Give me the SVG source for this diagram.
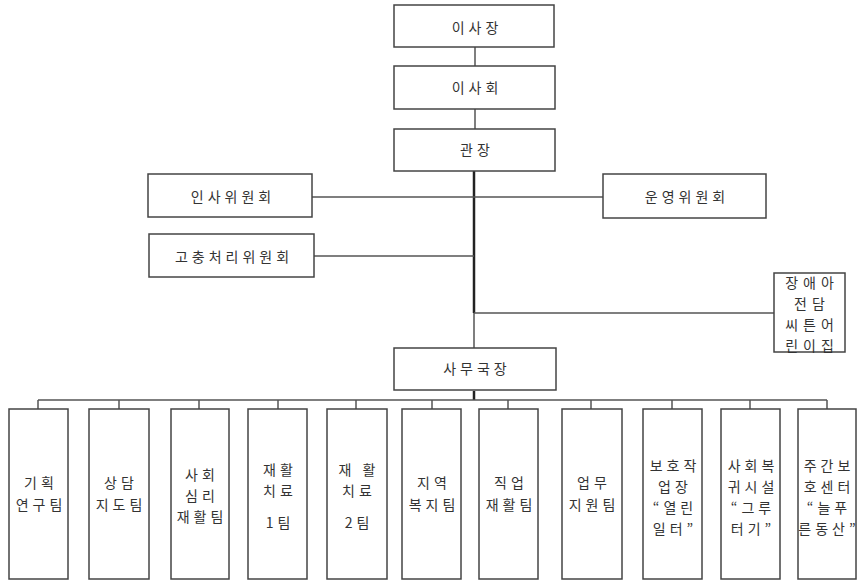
<svg xmlns="http://www.w3.org/2000/svg" width="858" height="581" viewBox="0 0 858 581">
<style>
rect.b{fill:#fff;stroke:#444;stroke-width:1.5}
text{font-family:"Noto Sans CJK KR","Noto Sans",sans-serif;font-size:14px;fill:#333;text-anchor:middle;letter-spacing:4px}
text.w{letter-spacing:5px}
.c line{stroke:#555;stroke-width:1.5}
.c line.k{stroke:#222;stroke-width:2.5}
</style>
<rect width="858" height="581" fill="#fff"/>
<g class="c" id="connectors">
<line x1="475" y1="47" x2="475" y2="66"/>
<line x1="475" y1="109" x2="475" y2="129"/>
<line class="k" x1="474" y1="171" x2="474" y2="313"/>
<line x1="474" y1="313" x2="474" y2="348"/>
<line x1="312" y1="197" x2="603" y2="197"/>
<line x1="314" y1="256" x2="474" y2="256"/>
<line x1="474" y1="313" x2="774" y2="313"/>
<line class="k" x1="474" y1="391" x2="474" y2="400"/>
<line x1="38" y1="400" x2="827" y2="400"/>
<line x1="38" y1="400" x2="38" y2="409"/>
<line x1="119" y1="400" x2="119" y2="409"/>
<line x1="199" y1="400" x2="199" y2="409"/>
<line x1="278" y1="400" x2="278" y2="409"/>
<line x1="356" y1="400" x2="356" y2="409"/>
<line x1="432" y1="400" x2="432" y2="409"/>
<line x1="508" y1="400" x2="508" y2="409"/>
<line x1="591" y1="400" x2="591" y2="409"/>
<line x1="672" y1="400" x2="672" y2="409"/>
<line x1="750" y1="400" x2="750" y2="409"/>
<line x1="827" y1="400" x2="827" y2="409"/>
</g>
<g id="n-chair"><rect class="b" x="394" y="5" width="160" height="42"/><text x="477" y="33">이사장</text></g>
<g id="n-board"><rect class="b" x="394" y="66" width="161" height="43"/><text x="477" y="93">이사회</text></g>
<g id="n-director"><rect class="b" x="394" y="129" width="161" height="42"/><text x="477" y="155">관장</text></g>
<g id="n-hr"><rect class="b" x="148" y="174" width="164" height="43"/><text x="233" y="202">인사위원회</text></g>
<g id="n-griev"><rect class="b" x="149" y="234" width="165" height="43"/><text x="234" y="262">고충처리위원회</text></g>
<g id="n-ops"><rect class="b" x="603" y="174" width="163" height="44"/><text x="687" y="202">운영위원회</text></g>
<g id="n-daycare"><rect class="b" x="774" y="273" width="71" height="79"/>
<text class="w" x="812" y="288">장애아</text>
<text class="w" x="812" y="309">전담</text>
<text class="w" x="812" y="330">씨튼어</text>
<text class="w" x="812" y="351">린이집</text></g>
<g id="n-secretary"><rect class="b" x="394" y="348" width="162" height="42"/><text x="477" y="374">사무국장</text></g>
<g id="t1"><rect class="b" x="9" y="409" width="59" height="170"/><text x="41" y="488">기획</text><text x="41" y="510">연구팀</text></g>
<g id="t2"><rect class="b" x="89" y="409" width="60" height="170"/><text x="121" y="488">상담</text><text x="121" y="510">지도팀</text></g>
<g id="t3"><rect class="b" x="171" y="409" width="58" height="170"/><text x="202" y="480">사회</text><text x="202" y="501">심리</text><text x="202" y="522">재활팀</text></g>
<g id="t4"><rect class="b" x="248" y="409" width="59" height="170"/><text x="280" y="475">재활</text><text x="280" y="496">치료</text><text x="280" y="528">1팀</text></g>
<g id="t5"><rect class="b" x="327" y="409" width="60" height="170"/><text x="359" y="475">재 활</text><text x="359" y="496">치료</text><text x="359" y="528">2팀</text></g>
<g id="t6"><rect class="b" x="402" y="409" width="59" height="170"/><text x="434" y="488">지역</text><text x="434" y="510">복지팀</text></g>
<g id="t7"><rect class="b" x="479" y="409" width="59" height="170"/><text x="511" y="488">직업</text><text x="511" y="510">재활팀</text></g>
<g id="t8"><rect class="b" x="562" y="409" width="60" height="170"/><text x="594" y="488">업무</text><text x="594" y="510">지원팀</text></g>
<g id="t9"><rect class="b" x="643" y="409" width="59" height="170"/><text x="675" y="471">보호작</text><text x="675" y="492">업장</text><text x="675" y="513">“열린</text><text x="675" y="534">일터”</text></g>
<g id="t10"><rect class="b" x="721" y="409" width="59" height="170"/><text x="753" y="471">사회복</text><text x="753" y="492">귀시설</text><text x="753" y="513">“그루</text><text x="753" y="534">터기”</text></g>
<g id="t11"><rect class="b" x="798" y="409" width="58" height="170"/><text x="829" y="471">주간보</text><text x="829" y="492">호센터</text><text x="829" y="513">“늘푸</text><text x="829" y="534">른동산”</text></g>
</svg>
